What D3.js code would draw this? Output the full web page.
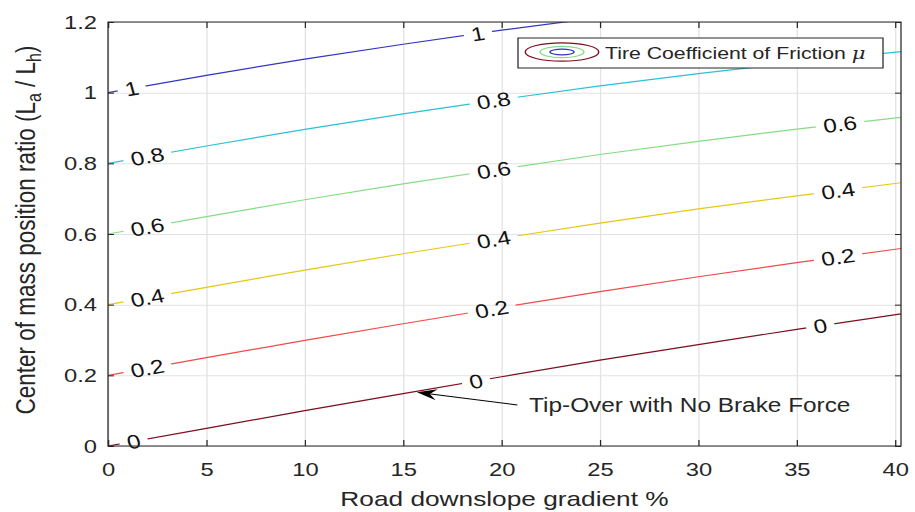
<!DOCTYPE html>
<html>
<head>
<meta charset="utf-8">
<script src="https://cdn.jsdelivr.net/npm/d3@7"></script>
<style>
body { margin: 0; background: #fff; }
svg { display: block; }
text { font-family: "Liberation Sans", Arial, Helvetica, sans-serif; }
</style>
</head>
<body>
<script>
// values
const gradient = [0, 5, 10, 15, 20, 25, 30, 35, 40.3];
const muLevels = [0, 0.2, 0.4, 0.6, 0.8, 1];
const ratioMu0  = [0, 0.050, 0.100, 0.148, 0.196, 0.243, 0.287, 0.330, 0.374];
const ratioMu02 = [0.2, 0.250, 0.299, 0.346, 0.392, 0.437, 0.479, 0.519, 0.559];
const ratioMu04 = [0.4, 0.449, 0.498, 0.544, 0.588, 0.631, 0.671, 0.708, 0.745];
const ratioMu06 = [0.6, 0.649, 0.697, 0.742, 0.784, 0.825, 0.862, 0.897, 0.930];
const ratioMu08 = [0.8, 0.849, 0.896, 0.940, 0.981, 1.019, 1.054, 1.086, 1.116];
const ratioMu1  = [1.0, 1.049, 1.095, 1.137, 1.177, 1.213, 1.245, 1.274, 1.301];
const contourRatios = [ratioMu0, ratioMu02, ratioMu04, ratioMu06, ratioMu08, ratioMu1];
const levelColors = ["#7a1020", "#f04a4a", "#e6c814", "#86dc86", "#2cc0d6", "#3535c4"];
// where the inline labels sit along each contour (in gradient %)
const labelAt = [[1.3, 18.7, 36.2], [2.0, 19.5, 37.1], [2.0, 19.6, 37.1], [2.0, 19.6, 37.2], [2.0, 19.6], [1.2, 18.8]];
const xTicks = [0, 5, 10, 15, 20, 25, 30, 35, 40];
const yTicks = [0, 0.2, 0.4, 0.6, 0.8, 1, 1.2];

// the reference is a horizontally stretched MATLAB figure
const stretch = 1.25;
const W = 915, H = 512;
const vbW = W / stretch;
const pL = 108 / stretch, pR = 901 / stretch, pT = 22, pB = 446;
const ink = "#262626";

const svg = d3.select("body").append("svg")
    .attr("width", W)
    .attr("height", H)
    .attr("viewBox", `0 0 ${vbW} ${H}`)
    .attr("preserveAspectRatio", "none");

const x = d3.scaleLinear().domain([0, 40.3]).range([pL, pR]);
const y = d3.scaleLinear().domain([0, 1.2]).range([pB, pT]);
const fmt = d3.format("");

// grid
svg.append("g")
    .attr("transform", `translate(0,${pB})`)
    .call(d3.axisBottom(x).tickValues(xTicks).tickSize(-(pB - pT)).tickFormat(""))
    .call(g => g.select(".domain").remove())
    .selectAll("line").attr("stroke", "#e2e2e2").attr("stroke-width", 1);
svg.append("g")
    .attr("transform", `translate(${pL},0)`)
    .call(d3.axisLeft(y).tickValues(yTicks).tickSize(-(pR - pL)).tickFormat(""))
    .call(g => g.select(".domain").remove())
    .selectAll("line").attr("stroke", "#e2e2e2").attr("stroke-width", 1);

const defs = svg.append("defs");
defs.append("clipPath").attr("id", "plotclip")
    .append("rect").attr("x", pL).attr("y", pT).attr("width", pR - pL).attr("height", pB - pT);

const line = d3.line()
    .x((d, i) => x(gradient[i]))
    .y(d => y(d));

const plot = svg.append("g").attr("clip-path", "url(#plotclip)");
const labels = svg.append("g");

muLevels.forEach((mu, i) => {
    const along = d3.scaleLinear().domain(gradient).range(contourRatios[i]);
    const mask = defs.append("mask").attr("id", "gap" + i)
        .attr("maskUnits", "userSpaceOnUse")
        .attr("x", 0).attr("y", 0).attr("width", vbW).attr("height", H);
    mask.append("rect").attr("x", 0).attr("y", 0).attr("width", vbW).attr("height", H).attr("fill", "#fff");

    labelAt[i].forEach(lx => {
        const px = x(lx), py = y(along(lx));
        const ang = Math.atan2(y(along(lx + 1)) - y(along(lx - 1)), x(lx + 1) - x(lx - 1)) * 180 / Math.PI;
        const t = labels.append("text")
            .attr("transform", `translate(${px},${py}) rotate(${ang})`)
            .attr("text-anchor", "middle")
            .attr("dy", "0.36em")
            .attr("font-size", 19.5)
            .attr("fill", "#111")
            .text(fmt(mu));
        const w = t.node().getComputedTextLength() + 12;
        mask.append("rect")
            .attr("transform", `translate(${px},${py}) rotate(${ang})`)
            .attr("x", -w / 2).attr("y", -9).attr("width", w).attr("height", 18)
            .attr("fill", "#000");
    });

    plot.append("path")
        .datum(contourRatios[i])
        .attr("d", line)
        .attr("fill", "none")
        .attr("stroke", levelColors[i])
        .attr("stroke-width", 1.2)
        .attr("mask", `url(#gap${i})`);
});

// axes
const gx = svg.append("g")
    .attr("transform", `translate(0,${pB})`)
    .call(d3.axisBottom(x).tickValues(xTicks).tickFormat(fmt).tickSize(-6).tickSizeOuter(0).tickPadding(17));
const gy = svg.append("g")
    .attr("transform", `translate(${pL},0)`)
    .call(d3.axisLeft(y).tickValues(yTicks).tickFormat(fmt).tickSize(-6 / stretch).tickSizeOuter(0).tickPadding(8.8));
const gt = svg.append("g")
    .attr("transform", `translate(0,${pT})`)
    .call(d3.axisTop(x).tickValues(xTicks).tickSize(-6).tickSizeOuter(0).tickFormat(""));
const gr = svg.append("g")
    .attr("transform", `translate(${pR},0)`)
    .call(d3.axisRight(y).tickValues(yTicks).tickSize(-6 / stretch).tickSizeOuter(0).tickFormat(""));
[gx, gy, gt, gr].forEach(g => {
    g.attr("font-family", null).attr("font-size", 19);
    g.select(".domain").remove();
    g.selectAll("line").attr("stroke", ink);
    g.selectAll("text").attr("fill", ink);
});

svg.append("rect")
    .attr("x", pL).attr("y", pT)
    .attr("width", pR - pL).attr("height", pB - pT)
    .attr("fill", "none").attr("stroke", ink).attr("stroke-width", 1);

// axis titles
svg.append("text")
    .attr("x", (pL + pR) / 2).attr("y", 506)
    .attr("text-anchor", "middle")
    .attr("font-size", 21)
    .attr("fill", ink)
    .text("Road downslope gradient %");

const yt = svg.append("text")
    .attr("transform", `translate(28,${(pT + pB) / 2 - 4}) rotate(-90)`)
    .attr("text-anchor", "middle")
    .attr("font-size", 22.5)
    .attr("fill", ink);
yt.append("tspan").text("Center of mass position ratio (L");
yt.append("tspan").attr("baseline-shift", "-30%").attr("font-size", 16).text("a");
yt.append("tspan").text(" / L");
yt.append("tspan").attr("baseline-shift", "-30%").attr("font-size", 16).text("h");
yt.append("tspan").text(")");

// annotation
const tip = [x(15.7), y(0.152)];
const tail = [x(20.8), y(0.116)];
const dx = tip[0] - tail[0], dy = tip[1] - tail[1];
const len = Math.hypot(dx, dy);
const ux = dx / len, uy = dy / len, nx = -uy, ny = ux;
const headL = 16, headW = 5.5;
svg.append("line")
    .attr("x1", tail[0]).attr("y1", tail[1])
    .attr("x2", tip[0] - ux * headL * 0.6).attr("y2", tip[1] - uy * headL * 0.6)
    .attr("stroke", "#000").attr("stroke-width", 1);
svg.append("path")
    .attr("d", d3.line()([
        tip,
        [tip[0] - ux * headL + nx * headW, tip[1] - uy * headL + ny * headW],
        [tip[0] - ux * headL * 0.65, tip[1] - uy * headL * 0.65],
        [tip[0] - ux * headL - nx * headW, tip[1] - uy * headL - ny * headW]
    ]) + "Z")
    .attr("fill", "#000");
svg.append("text")
    .attr("x", x(21.4)).attr("y", y(0.116))
    .attr("dy", "0.36em")
    .attr("font-size", 19.5)
    .attr("fill", ink)
    .text("Tip-Over with No Brake Force");

// legend
const lg = svg.append("g");
lg.append("rect")
    .attr("x", 518 / stretch).attr("y", 38)
    .attr("width", (883 - 518) / stretch).attr("height", 30)
    .attr("fill", "#fff").attr("stroke", ink).attr("stroke-width", 1);
const cx = 562 / stretch, cy = 52;
[[29.4, 9.2, levelColors[0]], [17.5, 5.6, levelColors[3]], [9.6, 2.8, levelColors[5]]]
    .forEach(([rx, ry, c]) => {
        lg.append("ellipse").attr("cx", cx).attr("cy", cy).attr("rx", rx).attr("ry", ry)
            .attr("fill", "none").attr("stroke", c).attr("stroke-width", 1.2);
    });
const lt = lg.append("text")
    .attr("x", 605 / stretch).attr("y", 59.5)
    .attr("font-size", 17)
    .attr("fill", ink);
lt.append("tspan").text("Tire Coefficient of Friction ");
lt.append("tspan").attr("font-style", "italic").attr("font-family", "'DejaVu Serif', serif").text("μ");
</script>
</body>
</html>
